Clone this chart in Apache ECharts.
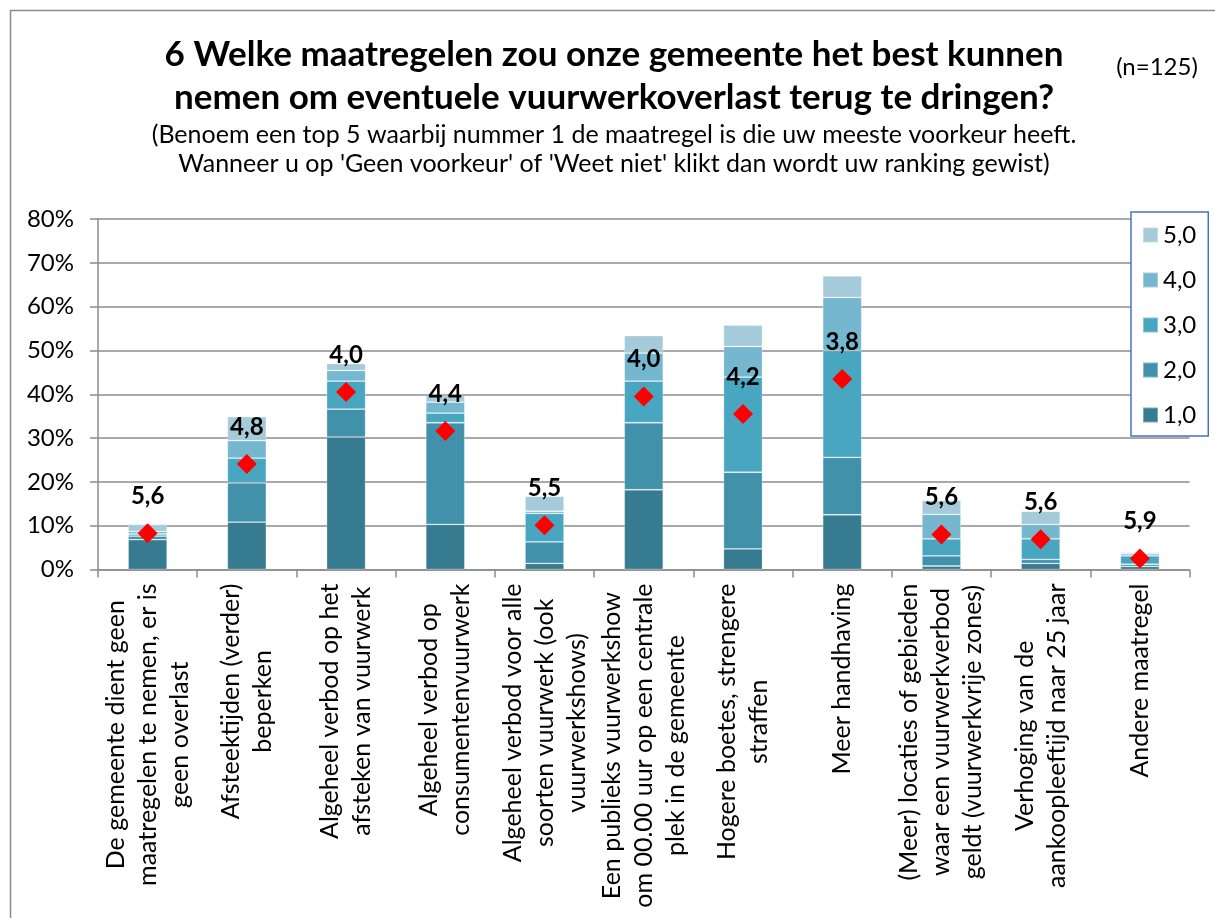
<!DOCTYPE html>
<html>
<head>
<meta charset="utf-8">
<script src="https://cdn.jsdelivr.net/npm/echarts@6/dist/echarts.min.js"></script>
<style>
  html, body { margin: 0; padding: 0; background: #fff; }
  #chart { width: 1215px; height: 918px; }
</style>
</head>
<body>
<div id="chart"></div>
<script>
// ---- data ----
var categories = [
  "De gemeente dient geen\nmaatregelen te nemen, er is\ngeen overlast",
  "Afsteektijden (verder)\nbeperken",
  "Algeheel verbod op het\nafsteken van vuurwerk",
  "Algeheel verbod op\nconsumentenvuurwerk",
  "Algeheel verbod voor alle\nsoorten vuurwerk (ook\nvuurwerkshows)",
  "Een publieks vuurwerkshow\nom 00.00 uur op een centrale\nplek in de gemeente",
  "Hogere boetes, strengere\nstraffen",
  "Meer handhaving",
  "(Meer) locaties of gebieden\nwaar een vuurwerkverbod\ngeldt (vuurwerkvrije zones)",
  "Verhoging van de\naankoopleeftijd naar 25 jaar",
  "Andere maatregel"
];
var rank1 = [6.8, 10.8, 30.2, 10.3, 1.4, 18.2, 4.7, 12.5, 0.8, 1.4, 0.7];
var rank2 = [0.8, 9.0, 6.4, 23.2, 4.9, 15.3, 17.5, 13.1, 2.3, 0.9, 0.5];
var rank3 = [0.5, 5.6, 6.4, 2.2, 6.5, 9.5, 21.7, 24.4, 3.9, 4.7, 1.9];
var rank4 = [0.6, 4.0, 2.4, 2.5, 0.5, 6.4, 7.0, 12.1, 5.6, 3.3, 0.5];
var rank5 = [1.6, 5.5, 1.6, 1.5, 3.4, 4.0, 4.9, 4.9, 3.2, 3.0, 0.3];
var markerPct = [8.3, 24.1, 40.5, 31.6, 10.1, 39.5, 35.5, 43.5, 8.0, 6.9, 2.5];
var avgRank = [5.6, 4.8, 4.0, 4.4, 5.5, 4.0, 4.2, 3.8, 5.6, 5.6, 5.9];
var seriesNames = ["1,0", "2,0", "3,0", "4,0", "5,0"];
var yTicks = [0, 10, 20, 30, 40, 50, 60, 70, 80];

var titleLines = ["6 Welke maatregelen zou onze gemeente het best kunnen",
                  "nemen om eventuele vuurwerkoverlast terug te dringen?"];
var subLines = ["(Benoem een top 5 waarbij nummer 1 de maatregel is die uw meeste voorkeur heeft.",
                "Wanneer u op 'Geen voorkeur' of 'Weet niet' klikt dan wordt uw ranking gewist)"];
var nText = "(n=125)";

// ---- style ----
var FONT = "Lato, 'Open Sans', sans-serif";
var colors = ["#367B8F", "#4291AB", "#49A6C1", "#74B7CE", "#A5CADA"];
var gridGray = "#8c8c8c";

var chart = echarts.init(document.getElementById('chart'), null, { renderer: 'canvas' });

var rankData = [rank1, rank2, rank3, rank4, rank5];
var series = rankData.map(function (d, i) {
  return {
    name: seriesNames[i],
    type: 'bar',
    stack: 'rank',
    barWidth: 39,
    data: d,
    itemStyle: { color: colors[i], borderColor: 'rgba(255,255,255,0.35)', borderWidth: 0.8 },
    emphasis: { disabled: true }
  };
});
series.push({
  name: 'gem',
  type: 'scatter',
  symbol: 'diamond',
  symbolSize: [20, 20],
  z: 5,
  data: markerPct,
  itemStyle: { color: '#FF0000', opacity: 1 },
  emphasis: { disabled: true },
  label: {
    show: true,
    position: 'inside',
    offset: [0, -37],
    formatter: function (p) { return avgRank[p.dataIndex].toFixed(1).replace('.', ','); },
    fontFamily: FONT,
    fontWeight: 'bold',
    fontSize: 24,
    color: '#000',
    opacity: 1,
    textBorderWidth: 0,
    textBorderColor: 'transparent'
  }
});

var option = {
  backgroundColor: '#fff',
  animation: false,
  textStyle: { fontFamily: FONT },
  grid: { left: 98, right: 25.5, top: 219, bottom: 348.5, containLabel: false, outerBoundsMode: 'none' },
  legend: {
    orient: 'vertical',
    left: 1131,
    top: 212,
    data: seriesNames.slice().reverse(),
    itemWidth: 15,
    itemHeight: 15,
    itemGap: 21,
    padding: [11, 12, 9, 11],
    icon: 'rect',
    borderColor: '#4472C4',
    borderWidth: 1.5,
    backgroundColor: '#fff',
    textStyle: { fontFamily: FONT, fontSize: 24, color: '#000', lineHeight: 24 }
  },
  xAxis: {
    type: 'category',
    data: categories,
    boundaryGap: true,
    axisLine: { lineStyle: { color: gridGray, width: 1.5 } },
    axisTick: { show: true, length: 8, lineStyle: { color: gridGray, width: 1.5 } },
    axisLabel: {
      interval: 0,
      rotate: 90,
      margin: 14,
      color: '#000',
      fontFamily: FONT,
      fontSize: 25,
      lineHeight: 32,
      formatter: function (v) {
        return v.split('\n').map(function (l) { return '{c|' + l + '}'; }).join('\n');
      },
      rich: { c: { align: 'center', fontFamily: FONT, fontSize: 25, lineHeight: 32, color: '#000' } }
    }
  },
  yAxis: {
    type: 'value',
    min: yTicks[0],
    max: yTicks[yTicks.length - 1],
    interval: 10,
    axisLine: { show: true, lineStyle: { color: gridGray, width: 1.5 } },
    axisTick: { show: true, length: 8, lineStyle: { color: gridGray, width: 1.5 } },
    splitLine: { show: true, lineStyle: { color: gridGray, width: 1.5 } },
    axisLabel: {
      margin: 24,
      color: '#000',
      fontFamily: FONT,
      fontSize: 24,
      formatter: '{value}%'
    }
  },
  graphic: [
    { type: 'rect', silent: true, z: -1,
      shape: { x: 10.5, y: 10.5, width: 1230, height: 930 },
      style: { fill: 'none', stroke: gridGray, lineWidth: 1.5 } },
    { type: 'text', silent: true, style: { text: titleLines[0], x: 614, y: 55, align: 'center', verticalAlign: 'middle', font: "bold 35px " + FONT, fill: '#000' } },
    { type: 'text', silent: true, style: { text: titleLines[1], x: 614, y: 98, align: 'center', verticalAlign: 'middle', font: "bold 35px " + FONT, fill: '#000' } },
    { type: 'text', silent: true, style: { text: subLines[0], x: 614, y: 135, align: 'center', verticalAlign: 'middle', font: "25px " + FONT, fill: '#000' } },
    { type: 'text', silent: true, style: { text: subLines[1], x: 614, y: 164, align: 'center', verticalAlign: 'middle', font: "25px " + FONT, fill: '#000' } },
    { type: 'text', silent: true, style: { text: nText, x: 1157, y: 67, align: 'center', verticalAlign: 'middle', font: "24px " + FONT, fill: '#000' } }
  ],
  series: series
};
chart.setOption(option);
</script>
</body>
</html>
